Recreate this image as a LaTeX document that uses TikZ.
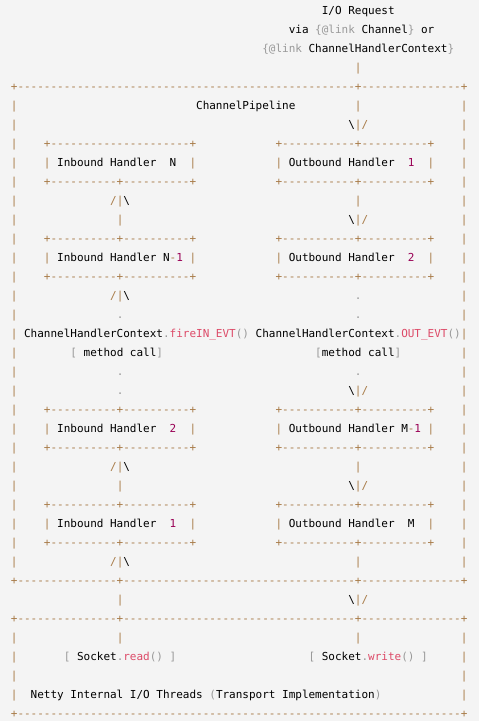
\documentclass[tikz,border=0pt]{standalone}
\usepackage{fontspec}
\setmonofont{DejaVu Sans Mono}
\usepackage{xcolor}
\usetikzlibrary{positioning}
\definecolor{codebg}{HTML}{F4F4F4}
\definecolor{opclr}{HTML}{A87B48}
\definecolor{puclr}{HTML}{999999}
\definecolor{nmclr}{HTML}{990055}
\definecolor{fnclr}{HTML}{DD4A68}
\tikzset{
  codeline/.style={anchor=base west, inner sep=0pt,
                   font=\ttfamily\fontsize{10.99}{19}\selectfont}
}
\frenchspacing

\begin{document}
\begin{tikzpicture}[x=1pt,y=1pt]
  \def\op#1{\textcolor{opclr}{#1}}
  \def\pu#1{\textcolor{puclr}{#1}}
  \def\nm#1{\textcolor{nmclr}{#1}}
  \def\fn#1{\textcolor{fnclr}{#1}}
  \def\sk#1{\hskip#1\fontcharwd\font`x\relax}
  \def\dsh#1{\foreach \k in {1,...,#1}{-}}
  % arrows and box rims
  \def\upin{\op{/|}\textbackslash}
  \def\dnout{\textbackslash\op{|/}}
  \def\bx{\op{+\dsh{10}+\dsh{10}+}}
  \def\bxo{\op{+\dsh{11}+\dsh{10}+}}
  \def\rowb{\op{|}\sk{4}\bx\sk{12}\bxo\sk{4}\op{|}}
  \def\hrow#1#2{\op{|}\sk{4}\op{|} Inbound Handler#1\op{|}\sk{12}\op{|} Outbound Handler#2\op{|}\sk{4}\op{|}}

  \path[use as bounding box, fill=codebg] (0,0) rectangle (479,-721);

  \foreach \txt [count=\i] in {
    {\sk{47}I/O Request},
    {\sk{42}via \pu{\{@link} Channel\pu{\}} or},
    {\sk{38}\pu{\{@link} ChannelHandlerContext\pu{\}}},
    {\sk{52}\op{|}},
    {\op{+\dsh{51}+\dsh{15}+}},
    {\op{|}\sk{27}ChannelPipeline\sk{9}\op{|}\sk{15}\op{|}},
    {\op{|}\sk{50}\dnout\sk{14}\op{|}},
    {\op{|}\sk{4}\op{+\dsh{21}+}\sk{12}\bxo\sk{4}\op{|}},
    {\hrow{\sk{2}N\sk{2}}{\sk{2}\nm{1}\sk{2}}},
    {\rowb},
    {\op{|}\sk{14}\upin\sk{34}\op{|}\sk{15}\op{|}},
    {\op{|}\sk{15}\op{|}\sk{34}\dnout\sk{14}\op{|}},
    {\rowb},
    {\hrow{\sk{1}N\op{-}\nm{1}\sk{1}}{\sk{2}\nm{2}\sk{2}}},
    {\rowb},
    {\op{|}\sk{14}\upin\sk{34}\pu{.}\sk{15}\op{|}},
    {\op{|}\sk{15}\pu{.}\sk{35}\pu{.}\sk{15}\op{|}},
    {\op{|} ChannelHandlerContext\pu{.}\fn{fireIN\_EVT}\pu{()} ChannelHandlerContext\pu{.}\fn{OUT\_EVT}\pu{()}\op{|}},
    {\op{|}\sk{8}\pu{[} method call\pu{]}\sk{23}\pu{[}method call\pu{]}\sk{9}\op{|}},
    {\op{|}\sk{15}\pu{.}\sk{35}\pu{.}\sk{15}\op{|}},
    {\op{|}\sk{15}\pu{.}\sk{34}\dnout\sk{14}\op{|}},
    {\rowb},
    {\hrow{\sk{2}\nm{2}\sk{2}}{\sk{1}M\op{-}\nm{1}\sk{1}}},
    {\rowb},
    {\op{|}\sk{14}\upin\sk{34}\op{|}\sk{15}\op{|}},
    {\op{|}\sk{15}\op{|}\sk{34}\dnout\sk{14}\op{|}},
    {\rowb},
    {\hrow{\sk{2}\nm{1}\sk{2}}{\sk{2}M\sk{2}}},
    {\rowb},
    {\op{|}\sk{14}\upin\sk{34}\op{|}\sk{15}\op{|}},
    {\op{+\dsh{15}+\dsh{35}+\dsh{15}+}},
    {\sk{16}\op{|}\sk{34}\dnout},
    {\op{+\dsh{15}+\dsh{35}+\dsh{15}+}},
    {\op{|}\sk{15}\op{|}\sk{35}\op{|}\sk{15}\op{|}},
    {\op{|}\sk{7}\pu{[} Socket\pu{.}\fn{read}\pu{()} \pu{]}\sk{20}\pu{[} Socket\pu{.}\fn{write}\pu{()} \pu{]}\sk{5}\op{|}},
    {\op{|}\sk{67}\op{|}},
    {\op{|}\sk{2}Netty Internal I/O Threads \pu{(}Transport Implementation\pu{)}\sk{12}\op{|}},
    {\op{+\dsh{67}+}}
  }{
    \node[codeline] (l\i) at (10.69,{-14-19*(\i-1)}) {\txt};
  }
\end{tikzpicture}
\end{document}
